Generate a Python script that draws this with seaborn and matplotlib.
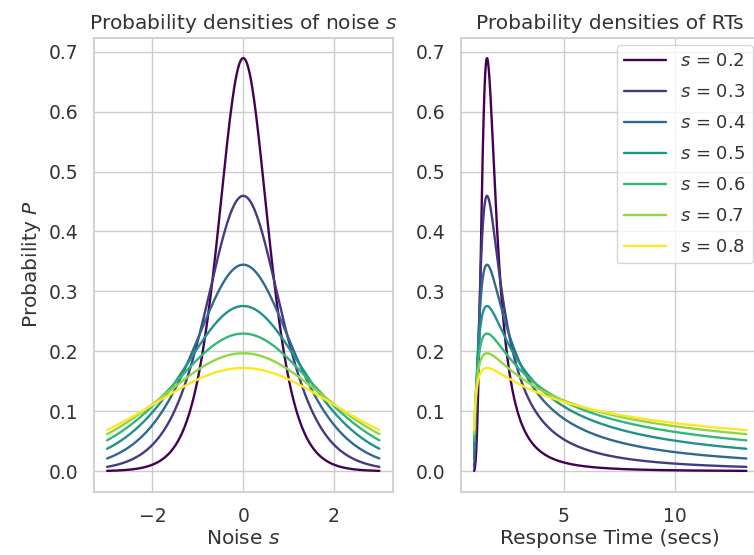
import numpy as np
import pandas as pd
import matplotlib
matplotlib.use("Agg")
import matplotlib.pyplot as plt
import seaborn as sns

# ---- data -------------------------------------------------------------
s_values = [0.2, 0.3, 0.4, 0.5, 0.6, 0.7, 0.8]          # noise levels
noise_range = (-3.0, 3.0)                               # noise axis span
rt_offset, rt_gain = 0.95, 0.61                         # RT = offset + gain*exp(noise)
x_ticks_left = [-2, 0, 2]
x_ticks_right = [5, 10]
y_ticks = [0.0, 0.1, 0.2, 0.3, 0.4, 0.5, 0.6, 0.7]

noise = np.linspace(noise_range[0], noise_range[1], 600)
rt = rt_offset + rt_gain * np.exp(noise)

frames = []
for s in s_values:
    b = s * np.pi / np.sqrt(3)
    z = np.exp(-noise / b)
    p = z / (b * (1 + z) ** 2)
    frames.append(pd.DataFrame({"noise": noise, "rt": rt, "P": p, "s": s}))
df = pd.concat(frames, ignore_index=True)

# ---- style ------------------------------------------------------------
sns.set_theme(style="whitegrid")
plt.rcParams["font.family"] = ["DejaVu Sans"]
plt.rcParams["mathtext.fontset"] = "dejavusans"
text_color = "#333333"
plt.rcParams["text.color"] = text_color
plt.rcParams["axes.labelcolor"] = text_color
plt.rcParams["xtick.color"] = text_color
plt.rcParams["ytick.color"] = text_color

colors = plt.cm.viridis(np.linspace(0, 1, len(s_values)))

W, H = 754, 555
fig = plt.figure(figsize=(W / 100, H / 100), dpi=100)
axw, axh = 299.5, 454.0
ax1 = fig.add_axes([93.5 / W, (H - 491.5) / H, axw / W, axh / H])
ax2 = fig.add_axes([460.5 / W, (H - 491.5) / H, axw / W, axh / H])

for s, c in zip(s_values, colors):
    d = df[df["s"] == s]
    sns.lineplot(data=d, x="noise", y="P", ax=ax1, color=c, linewidth=1.7,
                 estimator=None, sort=False)
    sns.lineplot(data=d, x="rt", y="P", ax=ax2, color=c, linewidth=1.7,
                 estimator=None, sort=False, label=f"$s$ = {s}")

ax1.set_xticks(x_ticks_left)
ax1.set_xticklabels([f"\u2212{abs(t)}" if t < 0 else f"{t}" for t in x_ticks_left])
ax2.set_xticks(x_ticks_right)
for ax in (ax1, ax2):
    ax.set_yticks(y_ticks)
    ax.set_yticklabels([f"{t:.1f}" for t in y_ticks])
    ax.tick_params(labelsize=13.5, pad=5)
    for sp in ax.spines.values():
        sp.set_color("#cccccc")

ax1.set_title("Probability densities of noise $s$", fontsize=14.5, pad=6)
ax2.set_title("Probability densities of RTs", fontsize=14.5, pad=6)
ax1.set_xlabel("Noise $s$", fontsize=14.5, labelpad=2)
ax1.set_ylabel("Probability $P$", fontsize=14.5)
ax2.set_xlabel("Response Time (secs)", fontsize=14.5, labelpad=2)
ax2.set_ylabel("")

ax2.legend(loc="upper right", fontsize=13, frameon=True, labelspacing=0.72,
           handlelength=2.3, borderaxespad=0.4)

fig.savefig("out.png", dpi=100)
